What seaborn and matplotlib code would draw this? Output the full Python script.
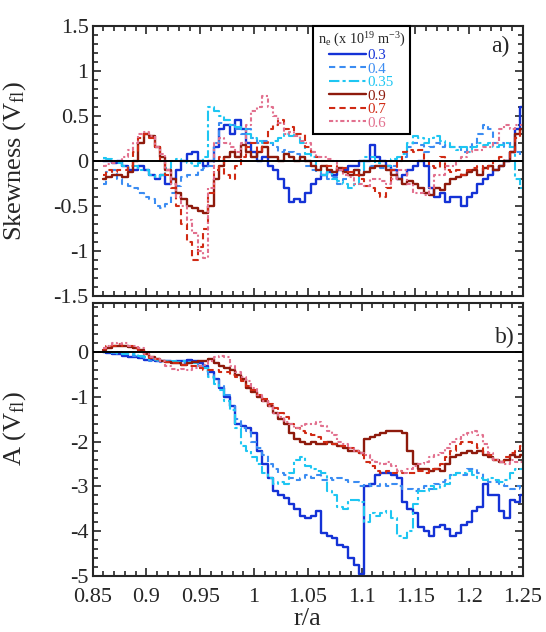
import numpy as np
import pandas as pd
import matplotlib
matplotlib.use("Agg")
import matplotlib.pyplot as plt
from matplotlib.ticker import MultipleLocator
import seaborn as sns

# ---------------- data ----------------
r = np.round(np.arange(0.86, 1.2501, 0.005), 3)
labels = ["0.3", "0.4", "0.35", "0.9", "0.7", "0.6"]

# Skewness (V_fl), panel a)
s03 = [0.0, 0.0, -0.02, 0.0, -0.05, -0.1, -0.1, -0.05, -0.1, -0.15,
       -0.2, -0.15, -0.25, -0.2, -0.1, 0.0, 0.08, 0.1, 0.0, -0.05,
       0.0, 0.15, 0.35, 0.4, 0.3, 0.45, 0.35, 0.2, 0.1, 0.0,
       0.05, -0.05, -0.1, -0.2, -0.3, -0.45, -0.42, -0.45, -0.35, -0.25,
       -0.2, -0.15, -0.12, -0.15, -0.1, -0.1, -0.05, -0.05, 0.0, 0.0,
       0.18, 0.05, 0.0, -0.05, -0.1, -0.2, -0.15, -0.1, -0.05, 0.0,
       -0.05, -0.3, -0.4, -0.35, -0.45, -0.4, -0.4, -0.5, -0.4, -0.35,
       -0.25, -0.2, -0.15, -0.1, -0.05, 0.0, 0.1, 0.35, 0.6]
s04 = [-0.25, -0.12, -0.1, -0.2, -0.25, -0.28, -0.3, -0.35, -0.4, -0.42,
       -0.5, -0.52, -0.48, -0.35, -0.28, -0.18, -0.15, -0.15, -0.1, -0.08,
       -0.05, 0.2, 0.42, 0.45, 0.4, 0.35, 0.3, 0.35, 0.25, 0.2,
       0.22, 0.2, 0.15, 0.1, 0.12, 0.1, 0.08, 0.05, -0.05, -0.1,
       -0.12, -0.15, -0.2, -0.18, -0.25, -0.2, -0.15, -0.1, -0.1, 0.0,
       -0.05, -0.05, -0.08, -0.1, -0.05, 0.0, 0.05, 0.15, 0.2, 0.18,
       0.1, 0.15, 0.2, 0.15, 0.18, 0.15, 0.15, 0.1, 0.15, 0.2,
       0.3, 0.4, 0.35, 0.2, 0.2, 0.15, 0.2, 0.1, 0.05]
s035 = [0.03, 0.02, 0.0, -0.02, -0.05, -0.08, -0.05, -0.1, -0.1, -0.15,
        -0.18, -0.15, -0.08, 0.0, 0.02, 0.0, -0.02, -0.05, -0.02, 0.05,
        0.6, 0.55, 0.5, 0.45, 0.4, 0.38, 0.35, 0.3, 0.25, 0.22,
        0.2, 0.2, 0.22, 0.25, 0.3, 0.28, 0.3, 0.2, 0.08, 0.05,
        -0.1, -0.15, -0.12, -0.2, -0.22, -0.25, -0.3, -0.25, -0.1, 0.05,
        0.05, -0.02, -0.05, -0.05, 0.02, 0.05, 0.08, 0.2, 0.28, 0.25,
        0.2, 0.25, 0.28, 0.22, 0.2, 0.15, 0.12, 0.15, 0.1, 0.15,
        0.2, 0.18, 0.2, 0.15, 0.18, 0.2, 0.15, -0.2, -0.3]
s09 = [-0.2, -0.18, -0.15, -0.15, -0.18, -0.12, 0.0, 0.2, 0.3, 0.28,
       0.15, 0.05, -0.1, -0.2, -0.35, -0.42, -0.5, -0.52, -0.55, -0.58,
       -0.5, -0.2, -0.05, 0.05, 0.1, 0.05, 0.18, 0.1, 0.05, 0.1,
       0.15, 0.05, 0.05, 0.0, 0.08, 0.05, 0.0, 0.05, 0.0, -0.05,
       -0.1, -0.05, -0.1, -0.12, -0.08, -0.12, -0.15, -0.1, -0.15, -0.12,
       -0.08, -0.05, -0.05, -0.1, -0.15, -0.2, -0.25, -0.22, -0.25, -0.3,
       -0.35, -0.38, -0.3, -0.32, -0.25, -0.2, -0.18, -0.15, -0.12, -0.1,
       -0.15, -0.08, -0.05, -0.1, -0.05, 0.0, 0.1, 0.3, 0.35]
s07 = [-0.15, -0.1, -0.12, -0.1, -0.1, -0.05, 0.1, 0.25, 0.3, 0.25,
       0.15, 0.0, -0.15, -0.3, -0.5, -0.7, -0.9, -1.1, -0.95, -0.75,
       -0.35, -0.1, 0.05, -0.15, -0.2, -0.05, 0.05, 0.15, 0.2, 0.1,
       0.2, 0.35, 0.4, 0.45, 0.35, 0.38, 0.3, 0.3, 0.15, 0.1,
       0.05, 0.0, -0.05, -0.05, -0.1, -0.08, -0.12, -0.15, -0.2, -0.28,
       -0.3, -0.35, -0.4, -0.3, -0.1, 0.0, 0.1, 0.12, 0.1, 0.12,
       0.0, -0.05, -0.08, 0.05, -0.1, -0.12, -0.1, -0.15, -0.1, -0.08,
       -0.05, -0.1, -0.05, 0.0, 0.05, 0.0, 0.1, 0.25, 0.35]
s06 = [-0.05, -0.03, -0.02, 0.0, 0.05, 0.12, 0.2, 0.3, 0.32, 0.28,
       0.15, 0.08, -0.1, -0.25, -0.4, -0.5, -0.65, -0.8, -1.0, -1.08,
       -0.3, 0.2, 0.25, 0.2, 0.15, 0.1, 0.2, 0.4, 0.55, 0.6,
       0.72, 0.6, 0.5, 0.42, 0.3, 0.32, 0.28, 0.22, 0.2, 0.1,
       0.05, 0.05, 0.02, 0.0, -0.1, -0.15, -0.18, -0.25, -0.25, -0.28,
       -0.2, -0.2, -0.22, -0.25, -0.2, -0.1, -0.1, -0.25, -0.35, -0.35,
       -0.38, -0.3, -0.15, -0.15, -0.05, -0.05, 0.0, 0.05, 0.1, 0.12,
       0.12, 0.15, 0.15, 0.2, 0.35, 0.4, 0.35, 0.4, 0.4]

# A (V_fl), panel b)
a03 = [0.0, -0.02, -0.05, -0.05, -0.08, -0.1, -0.1, -0.12, -0.18, -0.17,
       -0.2, -0.2, -0.2, -0.22, -0.2, -0.2, -0.18, -0.2, -0.25, -0.3,
       -0.45, -0.6, -0.8, -1.0, -1.2, -1.6, -1.65, -1.7, -1.8, -2.2,
       -2.5, -2.8, -3.1, -3.2, -3.25, -3.4, -3.5, -3.65, -3.7, -3.65,
       -3.55, -4.05, -4.1, -4.15, -4.3, -4.35, -4.6, -4.75, -4.95, -3.0,
       -2.95, -2.75, -2.7, -2.7, -2.75, -2.8, -3.35, -3.5, -3.6, -3.9,
       -4.0, -4.1, -3.9, -3.85, -3.95, -4.1, -4.05, -3.85, -3.8, -3.55,
       -3.45, -2.95, -3.2, -3.2, -3.55, -3.7, -3.3, -3.35, -3.2]
a04 = [0.0, 0.0, -0.02, -0.03, -0.05, -0.05, -0.08, -0.1, -0.15, -0.2,
       -0.2, -0.22, -0.2, -0.22, -0.25, -0.25, -0.25, -0.25, -0.3, -0.35,
       -0.5, -0.6, -0.75, -0.95, -1.2, -1.5, -1.7, -1.75, -2.0, -2.15,
       -2.3, -2.5, -2.6, -2.7, -2.75, -2.8, -2.85, -2.8, -2.75, -2.8,
       -2.75, -2.85, -2.8, -2.85, -2.8, -2.85, -2.9, -2.9, -3.0, -2.95,
       -3.0, -3.0, -2.95, -3.0, -2.95, -3.0, -3.05, -3.05, -3.1, -3.05,
       -3.0, -3.05, -2.95, -2.9, -2.85, -2.75, -2.7, -2.75, -2.6, -2.6,
       -2.7, -2.85, -2.9, -2.9, -2.95, -3.0, -3.05, -3.0, -3.05]
a035 = [0.0, 0.0, -0.02, 0.0, -0.05, -0.05, -0.05, -0.08, -0.1, -0.15,
        -0.18, -0.2, -0.2, -0.2, -0.22, -0.2, -0.22, -0.25, -0.3, -0.35,
        -0.55, -0.7, -0.85, -1.1, -1.3, -1.7, -2.1, -2.2, -2.35, -2.5,
        -2.7, -2.8, -2.95, -2.9, -2.95, -2.7, -2.4, -2.35, -2.55, -2.6,
        -2.65, -2.7, -3.1, -3.2, -3.45, -3.5, -3.3, -3.3, -3.35, -3.8,
        -3.6, -3.65, -3.6, -3.55, -3.7, -4.1, -4.15, -4.0, -3.4, -3.1,
        -3.1, -3.0, -3.05, -3.0, -2.95, -2.75, -2.7, -2.7, -2.65, -2.75,
        -2.8, -2.85, -2.8, -2.85, -2.9, -2.85, -2.7, -2.6, -2.6]
a09 = [0.05, 0.1, 0.15, 0.15, 0.15, 0.12, 0.1, 0.05, -0.05, -0.1,
       -0.15, -0.2, -0.22, -0.25, -0.25, -0.28, -0.25, -0.22, -0.2, -0.2,
       -0.15, -0.25, -0.3, -0.35, -0.4, -0.5, -0.6, -0.8, -0.9, -1.0,
       -1.1, -1.2, -1.35, -1.5, -1.6, -1.8, -1.95, -2.0, -2.05, -2.0,
       -2.05, -2.05, -2.0, -2.05, -2.1, -2.15, -2.2, -2.2, -2.25, -1.95,
       -1.9, -1.85, -1.8, -1.75, -1.75, -1.75, -1.8, -2.2, -2.5, -2.6,
       -2.6, -2.65, -2.6, -2.65, -2.5, -2.35, -2.3, -2.25, -2.2, -2.25,
       -2.2, -2.3, -2.35, -2.4, -2.45, -2.4, -2.3, -2.35, -2.3]
a07 = [0.08, 0.15, 0.15, 0.18, 0.15, 0.15, 0.1, 0.05, -0.05, -0.12,
       -0.15, -0.2, -0.22, -0.25, -0.25, -0.28, -0.3, -0.3, -0.35, -0.4,
       -0.4, -0.4, -0.45, -0.45, -0.5, -0.55, -0.65, -0.75, -0.85, -0.95,
       -1.05, -1.15, -1.25, -1.35, -1.45, -1.6, -1.7, -1.75, -1.8, -1.85,
       -1.9, -2.0, -2.05, -2.05, -2.1, -2.1, -2.15, -2.2, -2.3, -2.45,
       -2.55, -2.65, -2.7, -2.65, -2.7, -2.65, -2.7, -2.7, -2.7, -2.65,
       -2.7, -2.6, -2.6, -2.5, -2.35, -2.2, -2.05, -2.0, -2.0, -2.05,
       -2.15, -2.25, -2.3, -2.4, -2.45, -2.35, -2.25, -2.2, -2.1]
a06 = [0.1, 0.15, 0.2, 0.18, 0.2, 0.15, 0.15, 0.1, -0.05, -0.1,
       -0.15, -0.2, -0.3, -0.38, -0.4, -0.38, -0.4, -0.35, -0.3, -0.28,
       -0.2, -0.1, -0.08, -0.1, -0.3, -0.45, -0.55, -0.65, -0.8, -0.95,
       -1.1, -1.2, -1.35, -1.45, -1.55, -1.6, -1.7, -1.65, -1.6, -1.6,
       -1.55, -1.65, -1.75, -1.85, -2.0, -2.05, -2.15, -2.2, -2.25, -2.3,
       -2.4, -2.45, -2.5, -2.45, -2.55, -2.65, -2.7, -2.6, -2.55, -2.5,
       -2.45, -2.35, -2.3, -2.25, -2.15, -2.0, -1.95, -1.85, -1.8, -1.75,
       -1.85, -2.05, -2.25, -2.4, -2.45, -2.5, -2.4, -2.45, -2.45]

skew_series = [s03, s04, s035, s09, s07, s06]
amp_series = [a03, a04, a035, a09, a07, a06]

# ---------------- style ----------------
colors = ["#1432d6", "#3b8cf2", "#1ec6f2", "#8e1a0c", "#d02a14", "#e2708e"]
styles = ["-", (0, (3, 2)), (0, (5, 1.5, 1.5, 1.5)), "-", (0, (3, 2)), (0, (2, 1.2, 1, 1.2))]
widths = [1.7, 1.5, 1.5, 1.7, 1.5, 1.5]

sns.set_theme(style="ticks")
plt.rcParams["font.family"] = ["Liberation Serif", "DejaVu Serif"]
plt.rcParams["mathtext.fontset"] = "custom"
plt.rcParams["mathtext.rm"] = "Liberation Serif"
plt.rcParams["mathtext.it"] = "Liberation Serif:italic"
plt.rcParams["axes.linewidth"] = 1.5

fig = plt.figure(figsize=(5.46, 6.32), dpi=100)
ax1 = fig.add_axes([0.1698, 0.5316, 0.7881, 0.4273])
ax2 = fig.add_axes([0.1698, 0.0886, 0.7881, 0.4320])

for vals, lab, c, ls, lw in zip(skew_series, labels, colors, styles, widths):
    df = pd.DataFrame({"r": r, "v": vals})
    sns.lineplot(data=df, x="r", y="v", ax=ax1, color=c, linestyle=ls, lw=lw,
                 drawstyle="steps-mid", label=lab, estimator=None)
for vals, c, ls, lw in zip(amp_series, colors, styles, widths):
    df = pd.DataFrame({"r": r, "v": vals})
    sns.lineplot(data=df, x="r", y="v", ax=ax2, color=c, linestyle=ls, lw=lw,
                 drawstyle="steps-mid", estimator=None, legend=False)

for ax in (ax1, ax2):
    ax.axhline(0, color="black", lw=1.4, zorder=5)
    ax.set_xlim(0.85, 1.25)
    ax.xaxis.set_major_locator(MultipleLocator(0.05))
    ax.xaxis.set_minor_locator(MultipleLocator(0.01))
    ax.tick_params(which="both", direction="in", top=True, right=True,
                   labelsize=16, width=1.2)
    ax.tick_params(axis="y", pad=3)
    ax.tick_params(axis="x", pad=8.5)
    ax.tick_params(which="major", length=6)
    ax.tick_params(which="minor", length=3.5)
    for sp in ax.spines.values():
        sp.set_linewidth(1.5)

ax1.set_ylim(-1.5, 1.5)
ax1.yaxis.set_minor_locator(MultipleLocator(0.1))
ax1.set_yticks([-1.5, -1, -0.5, 0, 0.5, 1, 1.5])
ax1.set_yticklabels(["-1.5", "-1", "-0.5", "0", "0.5", "1", "1.5"])
ax1.tick_params(labelbottom=False)
ax1.set_xlabel("")
ax1.set_ylabel(r"Skewness (V$_{\mathrm{fl}}$)", fontsize=19)
ax1.yaxis.set_label_coords(-0.15, 0.5)

ax2.set_ylim(-5, 1.1)
ax2.set_yticks([-5, -4, -3, -2, -1, 0])
ax2.set_yticklabels(["-5", "-4", "-3", "-2", "-1", "0"])
ax2.yaxis.set_minor_locator(MultipleLocator(0.2))
ax2.set_xticks([0.85, 0.9, 0.95, 1.0, 1.05, 1.1, 1.15, 1.2, 1.25])
ax2.set_xticklabels(["0.85", "0.9", "0.95", "1", "1.05", "1.1", "1.15", "1.2", "1.25"])
ax2.set_xlabel("r/a", fontsize=19, labelpad=0.5)
ax2.set_ylabel(r"A (V$_{\mathrm{fl}}$)", fontsize=19)
ax2.yaxis.set_label_coords(-0.15, 0.54)

ax1.text(0.947, 0.925, "a)", transform=ax1.transAxes, fontsize=17, ha="center", va="center")
ax2.text(0.958, 0.875, "b)", transform=ax2.transAxes, fontsize=17, ha="center", va="center")

handles, labs = ax1.get_legend_handles_labels()
leg = ax1.legend(handles, labs, title=r"n$_{\mathrm{e}}$ (x 10$^{19}$ m$^{-3}$)",
                 loc="upper left", bbox_to_anchor=(0.512, 1.0), borderaxespad=0,
                 fontsize=10.8, title_fontsize=10.3, labelcolor="linecolor",
                 frameon=True, fancybox=False, framealpha=1, edgecolor="black",
                 handlelength=2.5, handletextpad=0.1, labelspacing=0.0,
                 borderpad=0.3, alignment="center")
leg.get_frame().set_linewidth(1.5)
leg.set_zorder(10)

fig.savefig("out.png", dpi=100)
